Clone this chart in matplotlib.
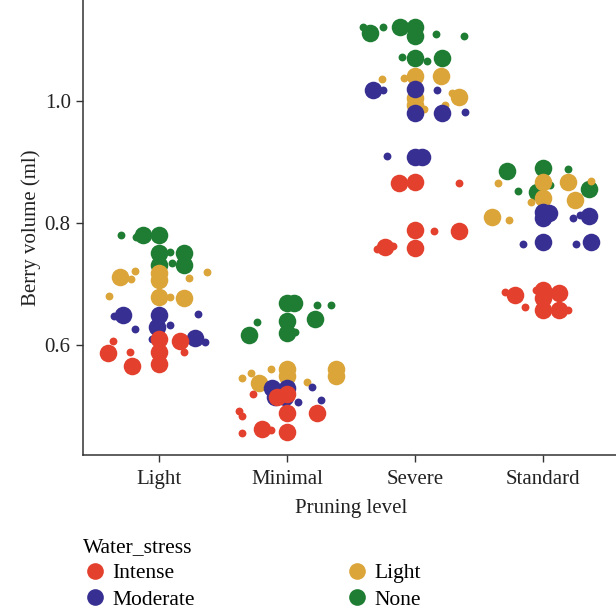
import matplotlib
matplotlib.use("Agg")
import matplotlib.pyplot as plt
from matplotlib.lines import Line2D

plt.rcParams['font.family'] = ['Liberation Serif', 'DejaVu Serif']

categories = ["Light", "Minimal", "Severe", "Standard"]
stress_levels = ["Intense", "Moderate", "Light", "None"]
stress_colors = {"Intense": "#E3402D", "Moderate": "#373092", "Light": "#DBA53A", "None": "#1E7D32"}
draw_order = ["None", "Light", "Moderate", "Intense"]

# Each point: pruning level, water stress, berry volume, horizontal jitter, large marker?
prune = []
stress = []
volume = []
jitter = []
large = []

def add(p, s, vals, jits, bigs):
    prune.extend([p] * len(vals)); stress.extend([s] * len(vals))
    volume.extend(vals); jitter.extend(jits); large.extend(bigs)

# Light pruning
add("Light", "None",
    [0.780, 0.780, 0.780, 0.777, 0.751, 0.752, 0.751, 0.731, 0.731, 0.734],
    [-0.30, -0.125, 0.0, -0.18, 0.0, 0.086, 0.19, 0.19, 0.0, 0.10],
    [0, 1, 1, 0, 1, 0, 1, 1, 1, 0])
add("Light", "Light",
    [0.711, 0.721, 0.708, 0.718, 0.707, 0.710, 0.720, 0.680, 0.679, 0.679, 0.677],
    [-0.31, -0.19, -0.22, 0.0, 0.0, 0.23, 0.37, -0.39, 0.0, 0.08, 0.195],
    [1, 0, 0, 1, 1, 0, 0, 0, 1, 0, 1])
add("Light", "Moderate",
    [0.649, 0.648, 0.626, 0.649, 0.630, 0.633, 0.651, 0.611, 0.605, 0.610],
    [-0.28, -0.35, -0.19, 0.0, -0.015, 0.086, 0.30, 0.28, 0.36, -0.055],
    [1, 0, 0, 1, 1, 0, 0, 1, 0, 0])
add("Light", "Intense",
    [0.610, 0.589, 0.569, 0.607, 0.589, 0.587, 0.607, 0.589, 0.566],
    [0.0, 0.0, 0.0, 0.165, 0.19, -0.40, -0.36, -0.23, -0.21],
    [1, 1, 1, 1, 0, 1, 0, 0, 1])

# Minimal pruning
add("Minimal", "None",
    [0.669, 0.669, 0.639, 0.620, 0.621, 0.643, 0.666, 0.666, 0.638, 0.616],
    [0.0, 0.055, 0.0, 0.0, 0.06, 0.22, 0.23, 0.34, -0.24, -0.30],
    [1, 1, 1, 1, 0, 1, 0, 0, 0, 1])
add("Minimal", "Light",
    [0.561, 0.549, 0.561, 0.549, 0.538, 0.546, 0.554, 0.561, 0.539],
    [0.0, 0.0, 0.38, 0.38, -0.22, -0.35, -0.28, -0.125, 0.155],
    [1, 1, 1, 1, 1, 0, 0, 0, 0])
add("Minimal", "Moderate",
    [0.530, 0.515, 0.530, 0.515, 0.507, 0.531, 0.510],
    [-0.12, -0.094, 0.0, -0.016, 0.086, 0.195, 0.26],
    [1, 1, 1, 1, 0, 0, 0])
add("Minimal", "Intense",
    [0.515, 0.520, 0.489, 0.457, 0.489, 0.462, 0.461, 0.520, 0.492, 0.484, 0.456],
    [-0.08, 0.0, 0.0, 0.0, 0.23, -0.20, -0.13, -0.27, -0.38, -0.35, -0.35],
    [1, 1, 1, 1, 1, 1, 0, 0, 0, 0, 0])

# Severe pruning
add("Severe", "None",
    [1.111, 1.121, 1.121, 1.121, 1.121, 1.107, 1.110, 1.107, 1.070, 1.072, 1.066, 1.070],
    [-0.35, -0.41, -0.25, -0.12, 0.0, 0.0, 0.16, 0.38, 0.0, -0.10, 0.094, 0.21],
    [1, 0, 0, 1, 1, 1, 0, 0, 1, 0, 0, 1])
add("Severe", "Light",
    [1.041, 1.038, 1.036, 1.041, 1.005, 0.993, 0.987, 1.007, 1.013, 0.993],
    [0.0, -0.086, -0.26, 0.20, 0.0, 0.0, 0.07, 0.34, 0.29, 0.23],
    [1, 0, 0, 1, 1, 1, 0, 1, 0, 0])
add("Severe", "Moderate",
    [1.018, 1.018, 1.020, 1.018, 0.980, 0.980, 0.982, 0.908, 0.908, 0.910],
    [-0.33, -0.25, 0.0, 0.17, 0.0, 0.21, 0.39, 0.0, 0.055, -0.22],
    [1, 0, 1, 0, 1, 1, 0, 1, 1, 0])
add("Severe", "Intense",
    [0.866, 0.867, 0.866, 0.789, 0.759, 0.787, 0.787, 0.761, 0.762, 0.757],
    [-0.125, 0.0, 0.34, 0.0, 0.0, 0.15, 0.34, -0.24, -0.17, -0.30],
    [1, 1, 0, 1, 1, 0, 1, 1, 0, 0])

# Standard pruning
add("Standard", "None",
    [0.885, 0.890, 0.889, 0.856, 0.851, 0.852, 0.862],
    [-0.28, 0.0, 0.195, 0.36, -0.047, -0.20, 0.055],
    [1, 1, 0, 1, 1, 0, 0])
add("Standard", "Light",
    [0.867, 0.867, 0.866, 0.841, 0.834, 0.838, 0.869, 0.810, 0.805],
    [0.0, 0.195, -0.35, 0.0, -0.094, 0.25, 0.37, -0.40, -0.27],
    [1, 1, 0, 1, 0, 1, 0, 1, 0])
add("Standard", "Moderate",
    [0.818, 0.808, 0.816, 0.811, 0.808, 0.813, 0.769, 0.766, 0.766, 0.769],
    [0.0, 0.0, 0.047, 0.36, 0.23, 0.29, 0.0, -0.16, 0.26, 0.375],
    [1, 1, 1, 1, 0, 0, 1, 0, 0, 1])
add("Standard", "Intense",
    [0.682, 0.687, 0.662, 0.690, 0.677, 0.657, 0.685, 0.657, 0.657, 0.690],
    [-0.22, -0.30, -0.14, 0.0, 0.0, 0.0, 0.125, 0.12, 0.19, -0.06],
    [1, 0, 0, 1, 1, 1, 1, 1, 0, 0])

fig = plt.figure(figsize=(6.16, 6.12), dpi=100)
ax = fig.add_axes([82.5 / 616, 157 / 612, (620 - 82.5) / 616, 455 / 612])

cat_pos = {c: i + 1 for i, c in enumerate(categories)}
for s in draw_order:
    for big in (1, 0):
        xs = [cat_pos[p] + j for p, st, j, b in zip(prune, stress, jitter, large) if st == s and b == big]
        ys = [v for v, st, b in zip(volume, stress, large) if st == s and b == big]
        ax.scatter(xs, ys, s=160 if big else 32, color=stress_colors[s], linewidths=0, zorder=3)

ax.set_xlim(0.4, 4.6)
ax.set_ylim(0.4197, 1.1656)
ax.set_xticks([1, 2, 3, 4])
ax.set_xticklabels(categories)
ax.set_yticks([0.6, 0.8, 1.0])
ax.set_yticklabels(["0.6", "0.8", "1.0"])
for side in ("top", "right"):
    ax.spines[side].set_visible(False)
for side in ("left", "bottom"):
    ax.spines[side].set_color("#333333")
    ax.spines[side].set_linewidth(1.1)
ax.tick_params(axis="both", colors="#333333", labelcolor="#222222", labelsize=15, length=5, width=1)
ax.tick_params(axis="x", pad=6)
ax.set_xlabel("Pruning level", fontsize=15, color="#222222", labelpad=7)
ax.set_ylabel("Berry volume (ml)", fontsize=15, color="#222222", labelpad=3)

handles = [Line2D([], [], marker="o", linestyle="", markersize=12, markeredgewidth=0,
                  color=stress_colors[s]) for s in stress_levels]
leg = fig.legend(handles, stress_levels, title="Water_stress", ncol=2, loc="upper left",
                 bbox_to_anchor=(70 / 616, 87 / 612), frameon=False, fontsize=15.5,
                 title_fontsize=15.5, columnspacing=7.0, handletextpad=0.25,
                 labelspacing=0.3, handlelength=1.1, alignment="left", borderaxespad=0.2)

fig.savefig("out.png", dpi=100)
